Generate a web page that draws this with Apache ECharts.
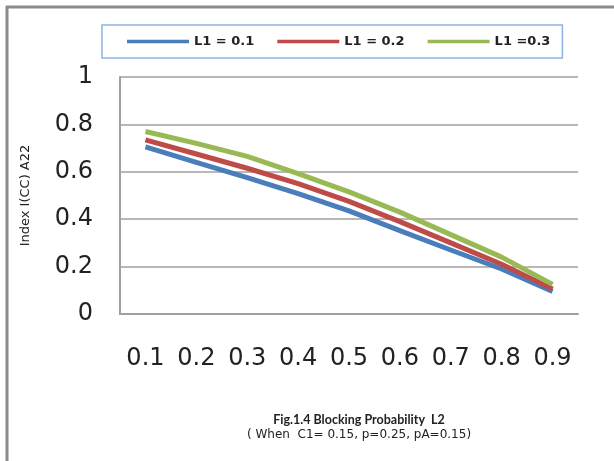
<!DOCTYPE html>
<html>
<head>
<meta charset="utf-8">
<script src="https://cdn.jsdelivr.net/npm/echarts@6/dist/echarts.min.js"></script>
<style>html,body{margin:0;padding:0;background:#fff}#c{width:614px;height:461px}</style>
</head>
<body>
<div id="c"></div>
<script>
var categories = ['0.1','0.2','0.3','0.4','0.5','0.6','0.7','0.8','0.9'];
var seriesNames = ['L1 = 0.1', 'L1 = 0.2', 'L1 =0.3'];
var l1_01 = [0.705, 0.640, 0.575, 0.508, 0.435, 0.352, 0.270, 0.190, 0.095];
var l1_02 = [0.735, 0.675, 0.615, 0.550, 0.475, 0.390, 0.300, 0.210, 0.105];
var l1_03 = [0.770, 0.720, 0.665, 0.592, 0.515, 0.430, 0.335, 0.240, 0.125];
var yTicks = [0, 0.2, 0.4, 0.6, 0.8, 1];
var colors = ['#4a7ebb', '#be4b48', '#98b954'];
var LATO = 'Lato, "Open Sans", sans-serif';
var DEJA = '"DejaVu Sans", sans-serif';

var chart = echarts.init(document.getElementById('c'), null, {renderer: 'canvas'});
var data = [l1_01, l1_02, l1_03];
chart.setOption({
  animation: false,
  backgroundColor: '#fff',
  color: colors,
  textStyle: {fontFamily: DEJA},
  legend: {
    left: 102, top: 25,
    padding: [10, 12, 10, 25],
    borderColor: '#8db3e2', borderWidth: 1.5,
    icon: 'rect', itemWidth: 62, itemHeight: 3.5, itemGap: 23,
    textStyle: {fontFamily: DEJA, fontSize: 13, fontWeight: 'bold', color: '#222'},
    data: seriesNames
  },
  grid: {left: 120, top: 77, width: 458, height: 237, containLabel: false},
  xAxis: {
    type: 'category', data: categories, boundaryGap: true,
    axisLine: {lineStyle: {color: '#a0a0a0', width: 2}},
    axisTick: {show: false},
    axisLabel: {margin: 33, fontSize: 24, color: '#222', fontFamily: DEJA},
    name: '{a|Fig.1.4 Blocking Probability  L2}\n{b|( When  C1= 0.15, p=0.25, pA=0.15)}',
    nameLocation: 'middle', nameGap: 98,
    nameTextStyle: {
      lineHeight: 15,
      padding: [0, 0, 0, 20],
      rich: {
        a: {fontFamily: LATO, fontSize: 12.5, fontWeight: 'bold', color: '#222', lineHeight: 15},
        b: {fontFamily: DEJA, fontSize: 12, color: '#222', lineHeight: 15}
      }
    }
  },
  yAxis: {
    type: 'value', min: 0, max: 1, interval: 0.2,
    axisLine: {show: true, lineStyle: {color: '#a0a0a0', width: 2}},
    axisTick: {show: false},
    splitLine: {lineStyle: {color: '#a0a0a0', width: 1.5}},
    axisLabel: {margin: 27, fontSize: 24, color: '#222', fontFamily: DEJA,
      formatter: function (v) { var r = Math.round(v*10)/10; return yTicks.indexOf(r) >= 0 ? String(r) : ''; }},
    name: 'Index I(CC) A22', nameLocation: 'middle', nameGap: 88,
    nameTextStyle: {fontFamily: DEJA, fontSize: 13, color: '#222'}
  },
  graphic: [
    {type: 'line', shape: {x1: 6, y1: 7, x2: 614, y2: 7}, style: {stroke: '#8c8c8c', lineWidth: 3}},
    {type: 'line', shape: {x1: 7, y1: 6, x2: 7, y2: 461}, style: {stroke: '#8c8c8c', lineWidth: 3}}
  ],
  series: seriesNames.map(function (n, i) {
    return {name: n, type: 'line', data: data[i], symbol: 'none', smooth: false,
      lineStyle: {width: 5, color: colors[i]}, z: 3 + i};
  })
});
</script>
</body>
</html>
